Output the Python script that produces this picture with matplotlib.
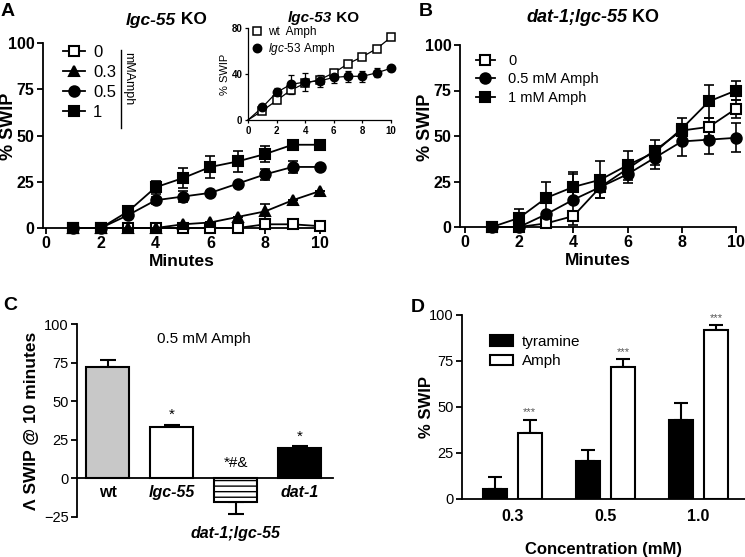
import matplotlib
matplotlib.use('Agg')
import matplotlib.pyplot as plt
import numpy as np
from matplotlib.lines import Line2D

plt.rcParams['font.family'] = ['Liberation Sans', 'DejaVu Sans']
plt.rcParams['mathtext.fontset'] = 'custom'
plt.rcParams['mathtext.rm'] = 'Liberation Sans'
plt.rcParams['mathtext.it'] = 'Liberation Sans:italic'
plt.rcParams['mathtext.bf'] = 'Liberation Sans:bold'
plt.rcParams['hatch.linewidth'] = 1.0
plt.rcParams['axes.linewidth'] = 1.3

# ---------------- data ----------------
minutes = [1, 2, 3, 4, 5, 6, 7, 8, 9, 10]

# Panel A: lgc-55 KO
a_labels = ['0', '0.3', '0.5', '1']
a_0 = [0, 0, 0, 0, 0, 0, 0, 2, 2, 1]
a_0_err = [0, 0, 0, 0, 0, 0, 0, 0, 0, 0]
a_03 = [0, 0, 0, 0, 2, 3, 6, 9, 15, 20]
a_03_err = [0, 0, 0, 0, 0, 0, 0, 4, 0, 0]
a_05 = [0, 0, 7, 15, 17, 19, 24, 29, 33, 33]
a_05_err = [0, 0, 0, 2, 3, 0, 0, 3, 3, 0]
a_1 = [0, 0, 9, 22, 27, 33, 36, 40, 45, 45]
a_1_err = [0, 0, 0, 3.5, 5.5, 6, 5.5, 4.5, 0, 0]

# Inset: lgc-53 KO
inset_minutes = [0, 1, 2, 3, 4, 5, 6, 7, 8, 9, 10]
inset_labels = ['wt  Amph', r'$\mathit{lgc}$-$\mathit{53}$ Amph']
ins_wt = [0, 8, 17, 26, 32, 35, 41, 49, 55, 62, 72]
ins_wt_err = [0, 1, 2, 2, 2, 2, 2, 2, 2, 2, 2]
ins_53 = [0, 11, 24, 31, 33, 34, 37, 38, 38, 41, 45]
ins_53_err = [0, 2, 4, 8, 8, 5, 5, 5, 5, 4, 2]

# Panel B: dat-1;lgc-55 KO
b_labels = ['0', '0.5 mM Amph', '1 mM Amph']
b_0 = [0, 0, 2, 6, 22, 32, 42, 53, 55, 65]
b_0_err = [0, 0, 0, 0, 0, 0, 0, 0, 5, 5]
b_05 = [0, 0, 7, 15, 22, 29, 38, 47, 48, 49]
b_05_err = [0, 0, 0, 14, 6, 5, 6, 8, 8, 8]
b_1 = [0, 5, 16, 22, 26, 34, 41, 54, 69, 75]
b_1_err = [0, 5, 9, 8, 10, 8, 7, 6, 9, 5]

# Panel C
c_groups = ['wt', 'lgc-55', 'dat-1;lgc-55', 'dat-1']
c_vals = [72, 33, -15, 20]
c_err = [4.5, 1.5, 8, 1]
c_annot = ['', '*', '*#&', '*']

# Panel D
d_conc = ['0.3', '0.5', '1.0']
d_tyr = [5.5, 20.5, 43]
d_tyr_err = [6.5, 6, 9]
d_amph = [36, 71.5, 92]
d_amph_err = [7, 4.5, 2.5]
d_annot = ['***', '***', '***']

# ---------------- figure ----------------
W, H = 745, 557
fig = plt.figure(figsize=(W / 100, H / 100), dpi=100)


def px_axes(left, top, right, bottom):
    return fig.add_axes([left / W, 1 - bottom / H, (right - left) / W, (bottom - top) / H])


def style_axes(ax, fs=11.5, weight='bold', lw=1.3, pad=2):
    for s in ['top', 'right']:
        ax.spines[s].set_visible(False)
    for s in ['left', 'bottom']:
        ax.spines[s].set_linewidth(lw)
    ax.tick_params(direction='out', length=4, width=lw, labelsize=fs, pad=pad)
    for lab in ax.get_xticklabels() + ax.get_yticklabels():
        lab.set_fontweight(weight)


def title_mixed(x, y, italic_part, rest, fs):
    fig.text(x / W, 1 - y / H, italic_part, fontsize=fs, fontweight='bold',
             fontstyle='italic', ha='right', va='center')
    fig.text(x / W, 1 - y / H, rest, fontsize=fs, fontweight='bold', ha='left', va='center')


# ---- Panel A ----
axA = px_axes(43, 43, 320, 228)
axA.set_xlim(-0.11, 10)
axA.set_ylim(0, 100)
axA.set_xticks([0, 2, 4, 6, 8, 10])
axA.set_yticks([0, 25, 50, 75, 100])
series_A = [(a_0, a_0_err, 's', 'white'), (a_03, a_03_err, '^', 'black'),
            (a_05, a_05_err, 'o', 'black'), (a_1, a_1_err, 's', 'black')]
handlesA = []
for (vals, err, mk, fc) in series_A:
    axA.errorbar(minutes, vals, yerr=err, fmt='none', ecolor='black', elinewidth=1.2,
                 capsize=3.5, capthick=1.2, clip_on=False, zorder=2)
    ln, = axA.plot(minutes, vals, marker=mk, color='black', mfc=fc, mec='black',
                   ms=7.5, mew=1.5, lw=1.3, clip_on=False, zorder=3)
    handlesA.append(ln)
style_axes(axA)
axA.set_xlabel('Minutes', fontsize=12.5, fontweight='bold', labelpad=2)
axA.set_ylabel('% SWIP', fontsize=13, fontweight='bold')
axA.yaxis.set_label_coords(-0.095, 0.55)
fig.legend(handlesA, a_labels, loc='upper left', bbox_to_anchor=(63 / W, 1 - 45 / H),
           frameon=False, fontsize=12, handlelength=1.3, handletextpad=0.5,
           labelspacing=0.3, borderpad=0, borderaxespad=0)
fig.add_artist(Line2D([121 / W, 121 / W], [1 - 50 / H, 1 - 128 / H], color='black', lw=1,
                      transform=fig.transFigure))
fig.text(128 / W, 1 - 52 / H, 'mMAmph', rotation=270, fontsize=9, ha='center', va='top')
title_mixed(176, 20, 'lgc-55', ' KO', 12.5)
fig.text(8 / W, 1 - 12 / H, 'A', fontsize=14, fontweight='bold', ha='center', va='center')

# ---- Inset ----
axI = px_axes(248, 28, 391, 120)
axI.set_xlim(0, 10)
axI.set_ylim(0, 80)
axI.set_xticks([0, 2, 4, 6, 8, 10])
axI.set_yticks([0, 40, 80])
hI = []
for vals, err, mk, fc in [(ins_wt, ins_wt_err, 's', 'white'), (ins_53, ins_53_err, 'o', 'black')]:
    axI.errorbar(inset_minutes[1:], vals[1:], yerr=err[1:], fmt='none', ecolor='black',
                 elinewidth=0.9, capsize=2.5, capthick=0.9, clip_on=False)
    axI.plot(inset_minutes, vals, color='black', lw=0.9, clip_on=False, zorder=2)
    m, = axI.plot(inset_minutes[1:], vals[1:], ls='none', marker=mk, mfc=fc, mec='black',
                  ms=6, mew=1.1, clip_on=False, zorder=3)
    hI.append(m)
style_axes(axI, fs=7, lw=0.9, pad=1.5)
axI.tick_params(length=2.5)
axI.set_ylabel('% SWIP', fontsize=8, labelpad=1)
axI.legend(hI, inset_labels, loc='upper left', bbox_to_anchor=(0.03, 1.02), frameon=False,
           fontsize=8.5, handlelength=0.8, handletextpad=0.5, labelspacing=0.25,
           borderpad=0, borderaxespad=0)
title_mixed(332, 18, 'lgc-53', ' KO', 11)

# ---- Panel B ----
axB = px_axes(460, 45, 736, 227)
axB.set_xlim(-0.18, 10)
axB.set_ylim(0, 100)
axB.set_xticks([0, 2, 4, 6, 8, 10])
axB.set_yticks([0, 25, 50, 75, 100])
series_B = [(b_0, b_0_err, 's', 'white'), (b_05, b_05_err, 'o', 'black'),
            (b_1, b_1_err, 's', 'black')]
handlesB = []
for (vals, err, mk, fc) in series_B:
    axB.errorbar(minutes, vals, yerr=err, fmt='none', ecolor='black', elinewidth=1.2,
                 capsize=3.5, capthick=1.2, clip_on=False, zorder=2)
    ln, = axB.plot(minutes, vals, marker=mk, color='black', mfc=fc, mec='black',
                   ms=7.5, mew=1.5, lw=1.3, clip_on=False, zorder=3)
    handlesB.append(ln)
style_axes(axB)
axB.set_xlabel('Minutes', fontsize=12.5, fontweight='bold', labelpad=2)
axB.set_ylabel('% SWIP', fontsize=13, fontweight='bold')
axB.yaxis.set_label_coords(-0.095, 0.55)
fig.legend(handlesB, b_labels, loc='upper left', bbox_to_anchor=(476 / W, 1 - 54 / H),
           frameon=False, fontsize=10.5, handlelength=1.3, handletextpad=0.9,
           labelspacing=0.3, borderpad=0, borderaxespad=0)
title_mixed(627, 18, 'dat-1;lgc-55', ' KO', 13)
fig.text(426 / W, 1 - 12 / H, 'B', fontsize=14, fontweight='bold', ha='center', va='center')

# ---- Panel C ----
axC = px_axes(77, 324, 333, 517)
axC.set_xlim(-0.48, 3.52)
axC.set_ylim(-25, 100)
xc = np.arange(len(c_groups))
c_colors = ['#c8c8c8', 'white', 'white', 'black']
c_hatch = [None, None, '---', None]
for i in range(len(c_groups)):
    axC.bar(xc[i], c_vals[i], width=0.67, color=c_colors[i], edgecolor='black', lw=1.5,
            hatch=c_hatch[i], zorder=2)
    if c_vals[i] >= 0:
        yerr = [[0], [c_err[i]]]
    else:
        yerr = [[c_err[i]], [0]]
    axC.errorbar(xc[i], c_vals[i], yerr=yerr, fmt='none', ecolor='black', elinewidth=1.5,
                 capsize=6, capthick=1.5, zorder=1)
c_annot_y = [0, 41, 10, 27]
for i, a in enumerate(c_annot):
    if a:
        axC.text(xc[i], c_annot_y[i], a, ha='center', va='center', fontsize=11)
axC.spines['bottom'].set_position(('data', 0))
style_axes(axC, fs=10.5, weight='normal')
axC.set_yticks([-25, 0, 25, 50, 75, 100])
axC.set_xticks(xc)
axC.set_xticklabels(c_groups)
for i, lab in enumerate(axC.get_xticklabels()):
    lab.set_fontweight('bold')
    lab.set_fontsize(11.5)
    if i > 0:
        lab.set_fontstyle('italic')
axC.tick_params(axis='x', length=0, pad=5)
axC.xaxis.get_major_ticks()[2].set_pad(34)
axC.text(1.5, 90, '0.5 mM Amph', ha='center', va='center', fontsize=11)
axC.set_ylabel('Λ SWIP @ 10 minutes', fontsize=12.5, fontweight='bold')
axC.yaxis.set_label_coords(-0.15, 0.5)
fig.text(10 / W, 1 - 305 / H, 'C', fontsize=14, fontweight='bold', ha='center', va='center')

# ---- Panel D ----
axD = px_axes(462, 315, 745, 499)
axD.set_xlim(-0.54, 2.5)
axD.set_ylim(0, 100)
xd = np.arange(len(d_conc))
off = 0.188
bw = 0.26
axD.bar(xd - off, d_tyr, width=bw, color='black', edgecolor='black', lw=1.5, zorder=2,
        label='tyramine')
axD.bar(xd + off, d_amph, width=bw, color='white', edgecolor='black', lw=1.5, zorder=2,
        label='Amph')
axD.errorbar(xd - off, d_tyr, yerr=[np.zeros(3), d_tyr_err], fmt='none', ecolor='black',
             elinewidth=1.5, capsize=5, capthick=1.5, zorder=1)
axD.errorbar(xd + off, d_amph, yerr=[np.zeros(3), d_amph_err], fmt='none', ecolor='black',
             elinewidth=1.5, capsize=5, capthick=1.5, zorder=1)
for i, a in enumerate(d_annot):
    axD.text(xd[i] + off, d_amph[i] + d_amph_err[i] + 4, a, ha='center', va='center',
             fontsize=8, color='#555555')
style_axes(axD, fs=10.5, weight='normal')
axD.set_yticks([0, 25, 50, 75, 100])
axD.set_xticks(xd)
axD.set_xticklabels(d_conc)
for lab in axD.get_xticklabels():
    lab.set_fontweight('bold')
    lab.set_fontsize(11.5)
axD.tick_params(axis='x', length=0, pad=7)
axD.set_xlabel('Concentration (mM)', fontsize=12, fontweight='bold', labelpad=13)
axD.set_ylabel('% SWIP', fontsize=12, fontweight='bold')
axD.yaxis.set_label_coords(-0.1, 0.5)
axD.legend(loc='upper left', bbox_to_anchor=(28 / 283, 1 - 20 / 184), frameon=False,
           fontsize=11, handlelength=1.5, handleheight=0.7, handletextpad=0.6,
           labelspacing=0.35, borderpad=0, borderaxespad=0)
fig.text(418 / W, 1 - 307 / H, 'D', fontsize=14, fontweight='bold', ha='center', va='center')

fig.savefig('out.png', dpi=100)
